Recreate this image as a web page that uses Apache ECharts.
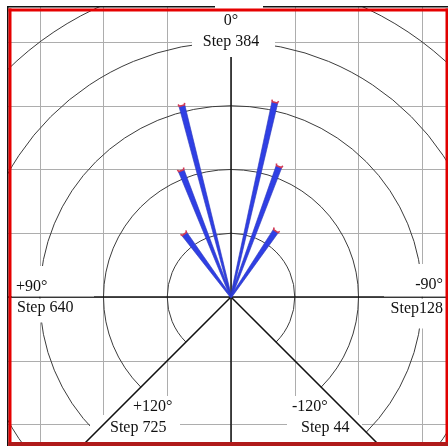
<!DOCTYPE html>
<html>
<head>
<meta charset="utf-8">
<script src="https://cdn.jsdelivr.net/npm/echarts@6/dist/echarts.min.js"></script>
<style>
  html, body { margin: 0; padding: 0; background: #fff; }
  #chart { width: 448px; height: 446px; }
</style>
</head>
<body>
<div id="chart"></div>
<script>
// Concentric range rings (in grid units; one unit = one grid cell)
const ringRadii = [1, 2, 3, 4, 5, 6];
// Measured rays: direction in degrees (positive = towards +90°, i.e. left) and length
const rayAngles = [14.4, 21.5, 36.5, -12.7, -20.2, -34.2];
const rayLengths = [3.10, 2.13, 1.23, 3.13, 2.18, 1.25];
// Reference spokes: straight axis lines and the two lower diagonals
const axisSpokes = [0, 180, 90, -90];
const diagonalSpokes = [135, -135];
// Direction labels and matching motor steps
const angleLabels = ['0°', '+90°', '-90°', '+120°', '-120°'];
const stepLabels = ['Step 384', 'Step 640', 'Step128', 'Step 725', 'Step 44'];

const UNIT = 63.75;
const CX = 231, CY = 297;
const SPOKE_LEN = 8;

const chart = echarts.init(document.getElementById('chart'), null, { renderer: 'canvas' });

function dirPoint(deg, len) {
  const t = deg * Math.PI / 180;
  return [-len * Math.sin(t), len * Math.cos(t)];
}

function spokeRender(color, width) {
  return function (params, api) {
    const p0 = api.coord([0, 0]);
    const p1 = api.coord(dirPoint(api.value(0), SPOKE_LEN));
    return {
      type: 'line',
      shape: { x1: p0[0], y1: p0[1], x2: p1[0], y2: p1[1] },
      style: { stroke: color, lineWidth: width }
    };
  };
}

const font = { fontFamily: 'Liberation Serif', fontSize: 16, fill: '#111' };
function label(text, x, y, align) {
  return {
    type: 'text', z: 6, silent: true,
    style: Object.assign({ text: text, x: x, y: y, textAlign: align, textVerticalAlign: 'middle' }, font)
  };
}
function mask(x, y, w, h) {
  return { type: 'rect', z: 5, silent: true, shape: { x: x, y: y, width: w, height: h }, style: { fill: '#fff' } };
}

const option = {
  animation: false,
  backgroundColor: '#fff',
  grid: {
    left: CX - 4 * UNIT, top: CY - 5 * UNIT, width: 8 * UNIT, height: 8 * UNIT,
    outerBoundsMode: 'none', containLabel: false
  },
  xAxis: {
    type: 'value', min: -4, max: 4, interval: 1,
    axisLine: { show: false }, axisTick: { show: false }, axisLabel: { show: false },
    splitLine: { show: true, lineStyle: { color: '#adadad', width: 1 } }
  },
  yAxis: {
    type: 'value', min: -3, max: 5, interval: 1,
    axisLine: { show: false }, axisTick: { show: false }, axisLabel: { show: false },
    splitLine: { show: true, lineStyle: { color: '#adadad', width: 1 } }
  },
  series: [
    {
      // range rings, open between the two lower diagonals
      type: 'custom', z: 2, silent: true,
      data: ringRadii.map(r => [r, 0]),
      renderItem: function (params, api) {
        const c = api.coord([0, 0]);
        const r = api.size([api.value(0), 0])[0];
        return {
          type: 'arc',
          shape: { cx: c[0], cy: c[1], r: r, startAngle: Math.PI * 3 / 4, endAngle: Math.PI / 4 + Math.PI * 2, clockwise: true },
          style: { stroke: '#3c3c3c', lineWidth: 1, fill: null }
        };
      }
    },
    {
      // vertical and horizontal axes
      type: 'custom', z: 3, silent: true,
      data: axisSpokes.map(a => [a, 0]),
      renderItem: spokeRender('#111', 1.5)
    },
    {
      // lower diagonals
      type: 'custom', z: 7, silent: true,
      data: diagonalSpokes.map(a => [a, 0]),
      renderItem: spokeRender('#111', 1.5)
    },
    {
      // tapered rays with red tips
      type: 'custom', z: 8, silent: true,
      data: rayAngles.map((a, i) => [a, rayLengths[i]]),
      renderItem: function (params, api) {
        const a = api.value(0), len = api.value(1);
        const p0 = api.coord([0, 0]);
        const p1 = api.coord(dirPoint(a, len));
        const dx = p1[0] - p0[0], dy = p1[1] - p0[1];
        const L = Math.sqrt(dx * dx + dy * dy);
        const nx = -dy / L, ny = dx / L;
        const ux = dx / L, uy = dy / L;
        const w0 = 0.7, w1 = 3;
        return {
          type: 'group',
          children: [
            {
              type: 'polygon',
              shape: { points: [
                [p0[0] + nx * w0, p0[1] + ny * w0],
                [p1[0] + nx * w1, p1[1] + ny * w1],
                [p1[0] - nx * w1, p1[1] - ny * w1],
                [p0[0] - nx * w0, p0[1] - ny * w0]
              ] },
              style: { fill: '#2f3fe4', stroke: '#2a36b8', lineWidth: 0.6 }
            },
            {
              type: 'polyline',
              shape: { points: [
                [p1[0] + nx * 3.4 + ux * 2, p1[1] + ny * 3.4 + uy * 2],
                [p1[0] + nx * 2.6, p1[1] + ny * 2.6],
                [p1[0] - nx * 2.6, p1[1] - ny * 2.6],
                [p1[0] - nx * 3.4 + ux * 2, p1[1] - ny * 3.4 + uy * 2]
              ] },
              style: { stroke: '#d23a55', lineWidth: 1.6, fill: null }
            }
          ]
        };
      }
    }
  ],
  graphic: [
    // white label backgrounds
    mask(215, 0, 48, 30),
    mask(192, 30, 83, 27),
    mask(12, 266, 82, 30.5),
    mask(12, 298.5, 82, 24),
    mask(384, 264, 64, 32.5),
    mask(384, 298.5, 64, 30),
    mask(120, 396, 52, 19),
    mask(90, 415, 90, 27),
    mask(285, 396, 50, 19),
    mask(287, 415, 75, 27),
    // labels
    label(angleLabels[0], 231, 21, 'center'),
    label(stepLabels[0], 231, 42, 'center'),
    label(angleLabels[1], 16, 287, 'left'),
    label(stepLabels[1], 17, 308, 'left'),
    label(angleLabels[2], 443, 285, 'right'),
    label(stepLabels[2], 443, 309, 'right'),
    label(angleLabels[3], 133, 407, 'left'),
    label(stepLabels[3], 110, 428, 'left'),
    label(angleLabels[4], 292, 407, 'left'),
    label(stepLabels[4], 301, 428, 'left'),
    // outer margin and frame
    { type: 'rect', z: 20, silent: true, shape: { x: 0, y: 0, width: 7, height: 446 }, style: { fill: '#fff' } },
    { type: 'rect', z: 20, silent: true, shape: { x: 0, y: 0, width: 448, height: 6 }, style: { fill: '#fff' } },
    { type: 'line', z: 4, silent: true, shape: { x1: 7, y1: 6.75, x2: 448, y2: 6.75 }, style: { stroke: '#111', lineWidth: 1.5 } },
    { type: 'line', z: 21, silent: true, shape: { x1: 7.75, y1: 6, x2: 7.75, y2: 446 }, style: { stroke: '#111', lineWidth: 1.5 } },
    { type: 'line', z: 21, silent: true, shape: { x1: 8.5, y1: 10, x2: 448, y2: 10 }, style: { stroke: '#e60000', lineWidth: 3 } },
    { type: 'line', z: 21, silent: true, shape: { x1: 10, y1: 8.5, x2: 10, y2: 446 }, style: { stroke: '#e60000', lineWidth: 3 } },
    { type: 'line', z: 21, silent: true, shape: { x1: 446.75, y1: 8.5, x2: 446.75, y2: 446 }, style: { stroke: '#e00000', lineWidth: 2.5 } },
    { type: 'line', z: 21, silent: true, shape: { x1: 8.5, y1: 444, x2: 448, y2: 444 }, style: { stroke: '#b01a1a', lineWidth: 4 } }
  ]
};

chart.setOption(option);
</script>
</body>
</html>
